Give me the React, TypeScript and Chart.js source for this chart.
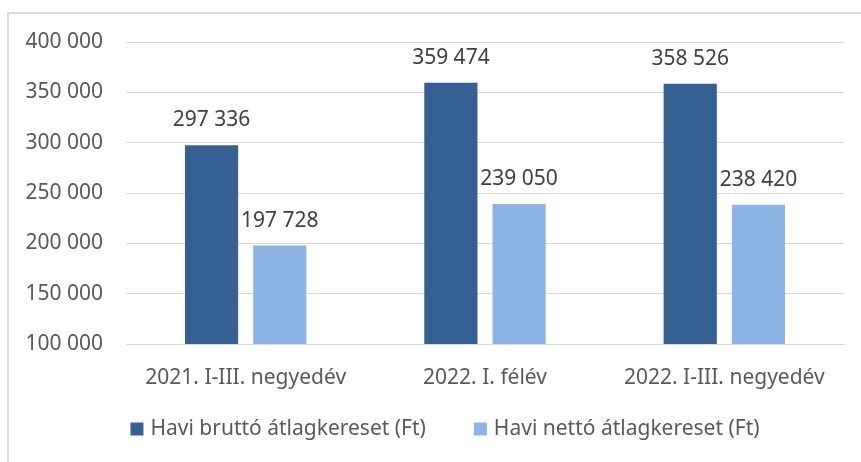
import React, { useEffect, useRef } from 'react';
import { Chart, registerables } from 'chart.js';

Chart.register(...registerables);

const categories = ['2021. I-III. negyedév', '2022. I. félév', '2022. I-III. negyedév'];
const seriesNames = ['Havi bruttó átlagkereset (Ft)', 'Havi nettó átlagkereset (Ft)'];
const grossValues = [297336, 359474, 358526];
const netValues = [197728, 239050, 238420];
const Y_MIN = 100000;
const Y_MAX = 400000;
const Y_STEP = 50000;

const FONT = "'Noto Sans', sans-serif";
const FONT_SIZE = 21;

const fmt = (n: number) => String(n).replace(/\B(?=(\d{3})+(?!\d))/g, ' ');

const valueLabels = {
  id: 'valueLabels',
  afterDatasetsDraw(chart: any) {
    const ctx = chart.ctx;
    ctx.save();
    ctx.font = `${FONT_SIZE}px ${FONT}`;
    ctx.fillStyle = '#404040';
    ctx.textAlign = 'center';
    ctx.textBaseline = 'middle';
    chart.data.datasets.forEach((ds: any, i: number) => {
      chart.getDatasetMeta(i).data.forEach((bar: any, j: number) => {
        ctx.fillText(fmt(ds.data[j]), bar.x, bar.y - 25);
      });
    });
    ctx.restore();
  },
};

// Legend drawn on the canvas from the datasets' own labels and colours
const bottomLegend = {
  id: 'bottomLegend',
  afterDraw(chart: any, _args: any, opts: any) {
    const ctx = chart.ctx;
    ctx.save();
    ctx.font = `${FONT_SIZE}px ${FONT}`;
    ctx.textBaseline = 'middle';
    ctx.textAlign = 'left';
    const items = chart.data.datasets.map((ds: any) => ({
      text: ds.label,
      color: ds.backgroundColor,
      w: opts.box + opts.boxGap + ctx.measureText(ds.label).width,
    }));
    const total = items.reduce((a: number, it: any) => a + it.w, 0) + opts.itemGap * (items.length - 1);
    let x = opts.centerX - total / 2;
    const y = chart.chartArea.bottom + opts.offsetY;
    items.forEach((it: any) => {
      ctx.fillStyle = it.color;
      ctx.fillRect(x, y - opts.box / 2, opts.box, opts.box);
      ctx.fillStyle = '#595959';
      ctx.fillText(it.text, x + opts.box + opts.boxGap, y);
      x += it.w + opts.itemGap;
    });
    ctx.restore();
  },
};

export default function App() {
  const ref = useRef<HTMLCanvasElement>(null);
  useEffect(() => {
    if (!ref.current) return;
    const chart = new Chart(ref.current, {
      type: 'bar',
      data: {
        labels: categories,
        datasets: [
          {
            label: seriesNames[0],
            data: grossValues,
            backgroundColor: '#376092',
            categoryPercentage: 0.57,
            barPercentage: 0.78,
          },
          {
            label: seriesNames[1],
            data: netValues,
            backgroundColor: '#8EB4E3',
            categoryPercentage: 0.57,
            barPercentage: 0.78,
          },
        ],
      },
      options: {
        animation: false,
        responsive: true,
        maintainAspectRatio: false,
        layout: { padding: { left: 25, right: 17, top: 42, bottom: 73 } },
        scales: {
          x: {
            grid: { display: false, drawTicks: false },
            border: { display: true, color: '#d9d9d9', width: 1 },
            ticks: {
              font: { family: FONT, size: FONT_SIZE },
              color: '#595959',
              padding: 21,
              maxRotation: 0,
              autoSkip: false,
            },
            afterFit: (s: any) => {
              s.height = 45;
            },
          },
          y: {
            min: Y_MIN,
            max: Y_MAX,
            grid: { color: '#d9d9d9', drawTicks: false, lineWidth: 1 },
            border: { display: false },
            ticks: {
              stepSize: Y_STEP,
              font: { family: FONT, size: FONT_SIZE },
              color: '#595959',
              padding: 23,
              callback: (v: any) => fmt(Number(v)),
            },
            afterFit: (s: any) => {
              s.width = 101;
            },
          },
        },
        plugins: {
          legend: { display: false },
          tooltip: { enabled: false },
          bottomLegend: { centerX: 445, offsetY: 85, box: 13, boxGap: 7, itemGap: 48 },
        } as any,
      },
      plugins: [valueLabels, bottomLegend],
    });
    return () => chart.destroy();
  }, []);

  return (
    <>
      <div
        style={{
          position: 'fixed',
          left: 7,
          top: 12,
          width: 870,
          height: 470,
          borderTop: '2px solid #d9d9d9',
          borderLeft: '2px solid #d9d9d9',
          boxSizing: 'border-box',
        }}
      />
      <div style={{ position: 'fixed', left: 0, top: 0, width: 861, height: 462 }}>
        <canvas ref={ref} />
      </div>
    </>
  );
}
